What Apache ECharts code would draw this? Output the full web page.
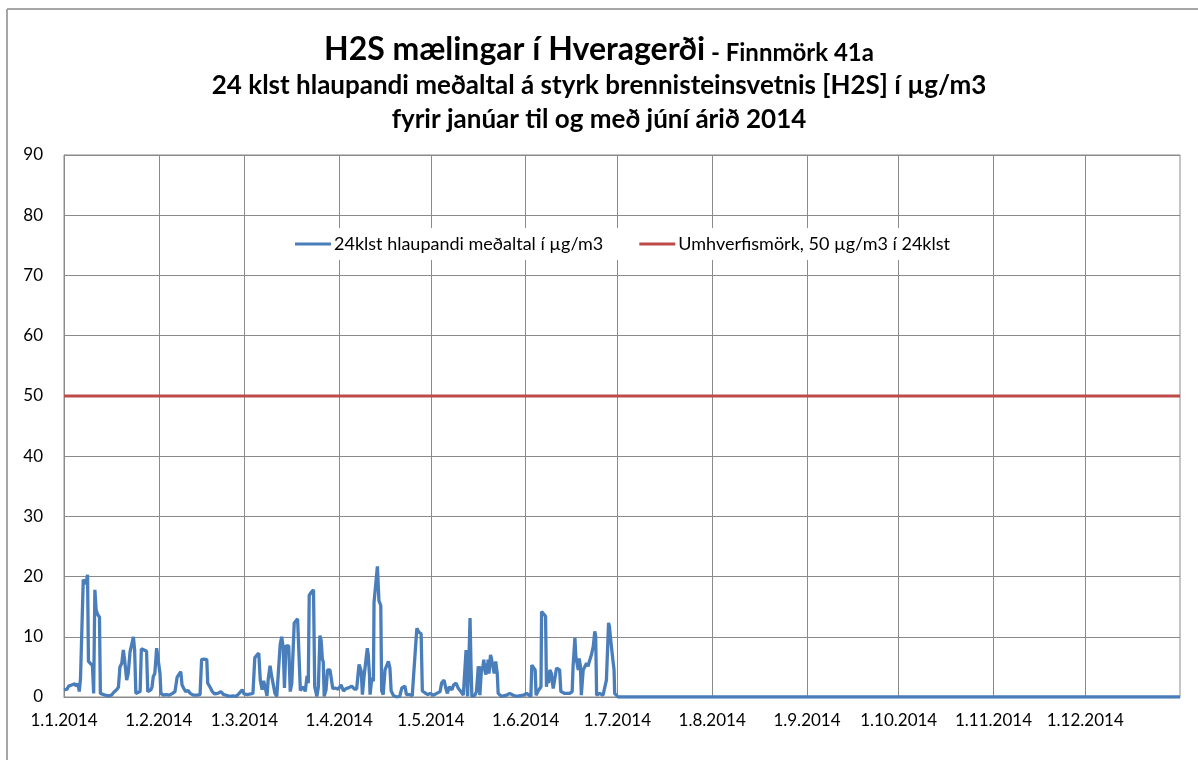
<!DOCTYPE html>
<html>
<head>
<meta charset="utf-8">
<title>H2S mælingar í Hveragerði</title>
<script src="https://cdn.jsdelivr.net/npm/echarts@6/dist/echarts.min.js"></script>
<style>
  html, body { margin: 0; padding: 0; background: #fff; }
  #chart { width: 1198px; height: 760px; }
</style>
</head>
<body>
<div id="chart"></div>
<script>
// dagar frá 1.1.2014 (brot úr degi) og 24 klst meðaltal í µg/m3
var days = [
  0.0, 0.5, 1.0, 1.5, 2.0, 2.5, 3.0, 3.5, 4.0, 4.6, 5.0, 5.4, 6.0, 6.3, 6.8, 7.2, 7.7, 8.0, 8.6, 9.3,
  9.7, 10.1, 10.5, 11.0, 11.6, 11.9, 12.5, 13.5, 14.5, 15.5, 16.3, 17.2, 17.8, 18.3, 18.9, 19.4, 19.9, 20.5, 21.0, 21.6,
  22.1, 22.7, 23.1, 23.5, 24.1, 24.9, 25.3, 26.2, 27.0, 27.4, 27.9, 28.4, 28.8, 29.2, 29.7, 30.3, 30.9, 31.4, 31.7, 32.5,
  33.5, 34.5, 35.5, 36.3, 37.0, 37.6, 38.2, 38.6, 39.2, 39.8, 40.5, 41.3, 42.3, 43.5, 44.5, 45.0, 45.8, 46.7, 47.0, 47.7,
  48.5, 49.3, 50.3, 51.3, 52.2, 53.0, 54.2, 55.3, 56.3, 57.3, 58.3, 58.9, 60.0, 61.0, 61.8, 62.4, 63.0, 63.7, 64.2, 64.8,
  65.3, 65.9, 66.4, 66.8, 67.4, 67.9, 68.4, 69.0, 69.6, 70.2, 70.7, 71.2, 71.7, 72.1, 72.6, 73.5, 74.0, 74.5, 75.0, 75.3,
  75.9, 76.4, 76.9, 77.3, 77.8, 78.4, 78.9, 79.5, 79.9, 80.2, 80.9, 81.6, 82.0, 82.4, 82.7, 83.2, 83.7, 84.1, 84.5, 84.8,
  85.1, 85.7, 86.2, 87.0, 87.5, 87.9, 88.6, 89.2, 89.7, 90.6, 91.4, 92.2, 93.0, 94.1, 95.0, 95.7, 96.5, 97.2, 97.6, 98.2,
  98.8, 99.2, 99.5, 99.9, 100.1, 100.7, 101.2, 101.4, 102.0, 102.5, 103.0, 103.6, 103.9, 104.4, 105.0, 105.6, 106.1, 106.6, 107.0, 107.8,
  108.8, 109.8, 110.5, 111.5, 112.0, 113.0, 113.9, 114.4, 115.0, 115.4, 116.0, 116.8, 117.2, 118.0, 119.0, 119.7, 120.8, 121.9, 123.0, 123.5,
  124.3, 124.9, 125.4, 126.0, 126.5, 126.9, 127.4, 128.2, 129.0, 129.8, 130.6, 131.2, 131.5, 131.7, 132.0, 132.4, 132.8, 133.1, 133.4, 134.4,
  134.9, 135.5, 135.8, 136.0, 136.6, 136.9, 137.3, 137.6, 138.0, 138.2, 138.5, 138.7, 139.0, 139.5, 139.8, 140.4, 140.7, 141.2, 141.7, 142.0,
  143.1, 144.7, 145.8, 146.9, 148.0, 150.2, 151.3, 151.9, 152.7, 153.0, 153.5, 154.1, 154.4, 155.2, 156.0, 156.2, 156.7, 157.5, 157.8, 158.1,
  158.5, 158.9, 159.4, 160.0, 160.5, 161.1, 162.1, 162.5, 163.8, 165.4, 166.2, 166.5, 167.1, 167.4, 167.8, 168.2, 168.5, 168.9, 169.2, 169.8,
  170.3, 170.9, 171.4, 172.0, 172.5, 173.1, 173.6, 173.9, 174.2, 175.2, 176.3, 176.8, 177.4, 177.7, 178.1, 178.4, 178.8, 179.2, 179.5, 179.9,
  180.1, 180.6, 181.2, 365.0
];
var values = [
  1.2, 1.5, 1.3, 1.8, 1.6, 2.0, 1.7, 2.2, 1.8, 2.2, 0.9, 3.1, 3.4, 19.5, 19.7, 18.8, 20.3, 5.9, 5.6, 5.2,
  0.6, 17.8, 14.5, 13.7, 13.3, 0.6, 0.3, 0.3, 0.2, 0.3, 0.8, 1.2, 1.6, 5.0, 5.6, 7.8, 5.8, 2.8, 3.9, 7.5,
  7.2, 10.0, 7.8, 0.6, 0.9, 0.9, 8.0, 7.8, 7.6, 0.9, 0.6, 1.2, 1.7, 3.4, 3.9, 8.1, 8.1, 3.9, 0.6, 0.3,
  0.4, 0.3, 0.6, 0.9, 3.3, 3.6, 4.2, 2.0, 1.4, 0.9, 1.1, 0.6, 0.3, 0.3, 0.4, 6.2, 6.3, 6.2, 2.3, 1.7,
  0.9, 0.5, 0.6, 0.9, 0.4, 0.3, 0.1, 0.2, 0.1, 0.6, 1.2, 0.5, 0.4, 0.5, 0.6, 6.5, 6.9, 7.3, 2.8, 1.2,
  2.7, 3.0, 0.2, 3.0, 5.2, 3.5, 3.7, 0.6, 0.1, 0.4, 8.7, 10.0, 8.2, 1.5, 8.5, 8.5, 0.9, 2.3, 2.3, 12.3,
  12.6, 13.0, 12.8, 1.1, 1.4, 1.7, 0.9, 3.5, 2.3, 16.9, 17.4, 17.8, 1.7, 1.4, 0.1, 1.7, 10.2, 9.4, 6.3, 5.8,
  0.1, 1.2, 4.5, 4.5, 4.2, 1.4, 1.5, 1.2, 1.3, 2.0, 1.0, 1.4, 1.5, 1.8, 1.3, 1.3, 5.4, 4.3, 0.4, 3.7,
  3.9, 8.1, 7.0, 3.7, 0.4, 3.2, 2.6, 15.7, 16.0, 21.7, 16.0, 15.2, 1.0, 0.4, 4.5, 4.8, 5.9, 4.8, 1.0, 0.2,
  0.0, 0.1, 1.5, 1.8, 0.4, 0.4, 0.2, 4.0, 4.3, 11.4, 10.8, 10.5, 1.0, 0.7, 0.4, 0.6, 0.3, 0.6, 0.9, 2.3,
  2.8, 1.4, 0.6, 1.7, 2.0, 1.2, 2.0, 2.3, 1.4, 0.9, 0.3, 0.6, 7.8, 7.6, 0.1, 5.6, 13.1, 5.6, 0.1, 0.3,
  0.9, 5.1, 4.5, 0.3, 5.1, 4.5, 6.2, 4.5, 3.7, 5.6, 3.9, 6.2, 3.9, 7.0, 6.4, 6.2, 3.9, 5.9, 3.9, 0.6,
  0.1, 0.3, 0.6, 0.3, 0.1, 0.3, 0.6, 0.6, 0.1, 5.3, 5.1, 4.5, 0.3, 1.1, 1.7, 14.2, 13.9, 13.4, 1.7, 3.9,
  2.3, 4.5, 3.9, 1.4, 1.2, 4.8, 4.5, 0.9, 0.6, 0.6, 0.9, 5.1, 9.8, 6.7, 6.4, 4.5, 6.4, 5.1, 0.3, 4.5,
  4.2, 5.6, 5.1, 6.2, 7.0, 8.4, 10.9, 10.1, 0.3, 0.6, 0.3, 0.6, 2.8, 3.1, 12.3, 11.7, 9.5, 9.2, 6.2, 4.5,
  0.6, 0.3, 0.0, 0.0
];

// umhverfismörk
var limitValue = 50;
var limitDays = [0, 365];

// fyrsti dagur hvers mánaðar og merkingar á x-ás
var monthStarts = [0, 31, 59, 90, 120, 151, 181, 212, 243, 273, 304, 334];
var monthLabels = ['1.1.2014', '1.2.2014', '1.3.2014', '1.4.2014', '1.5.2014', '1.6.2014',
  '1.7.2014', '1.8.2014', '1.9.2014', '1.10.2014', '1.11.2014', '1.12.2014'];

var seriesNames = ['24klst hlaupandi meðaltal í µg/m3', 'Umhverfismörk, 50 µg/m3 í 24klst'];

var h2sData = [];
for (var i = 0; i < days.length; i++) {
  h2sData.push([days[i], values[i]]);
}
var limitData = [];
for (var j = 0; j < limitDays.length; j++) {
  limitData.push([limitDays[j], limitValue]);
}

var fontName = 'Lato, "Noto Sans", sans-serif';
var gridColor = '#8a8a8a';

var myChart = echarts.init(document.getElementById('chart'));
var option = {
  animation: false,
  backgroundColor: '#fff',
  textStyle: { fontFamily: fontName },
  title: [
    {
      text: '{a|H2S mælingar í Hveragerði}{b| - Finnmörk 41a}',
      left: 'center', top: 29,
      textStyle: {
        rich: {
          a: { fontFamily: fontName, fontSize: 32, fontWeight: 'bold', color: '#000' },
          b: { fontFamily: fontName, fontSize: 24, fontWeight: 'bold', color: '#000', padding: [7, 0, 0, 0] }
        }
      }
    },
    {
      text: '24 klst hlaupandi meðaltal á styrk brennisteinsvetnis [H2S] í µg/m3',
      left: 'center', top: 68,
      textStyle: { fontFamily: fontName, fontSize: 26, fontWeight: 'bold', color: '#000' }
    },
    {
      text: 'fyrir janúar til og með júní árið 2014',
      left: 'center', top: 102,
      textStyle: { fontFamily: fontName, fontSize: 26, fontWeight: 'bold', color: '#000' }
    }
  ],
  legend: {
    data: seriesNames,
    left: 290, top: 228,
    icon: 'rect',
    itemWidth: 36, itemHeight: 3, itemGap: 36,
    backgroundColor: '#fff',
    padding: [7, 6, 7, 5],
    textStyle: { fontFamily: fontName, fontSize: 18, color: '#000', padding: [0, 0, 0, -2] }
  },
  grid: {
    left: 64, right: 18, top: 155, bottom: 63,
    show: true, borderColor: gridColor, borderWidth: 1
  },
  xAxis: {
    type: 'value',
    min: 0, max: 365,
    axisLine: { show: true, lineStyle: { color: gridColor } },
    axisTick: { show: false, customValues: monthStarts },
    splitLine: { show: true, lineStyle: { color: gridColor, width: 1 } },
    axisLabel: {
      customValues: monthStarts,
      margin: 15,
      fontFamily: fontName, fontSize: 17, color: '#000',
      formatter: function (val) {
        var idx = monthStarts.indexOf(Math.round(val));
        return idx >= 0 ? monthLabels[idx] : '';
      }
    }
  },
  yAxis: {
    type: 'value',
    min: 0, max: 90, interval: 10,
    axisLine: { show: true, lineStyle: { color: gridColor } },
    axisTick: { show: false },
    splitLine: { show: true, lineStyle: { color: gridColor, width: 1 } },
    axisLabel: { margin: 21, fontFamily: fontName, fontSize: 17, color: '#000' }
  },
  series: [
    {
      name: seriesNames[0],
      type: 'line',
      data: h2sData,
      showSymbol: false, symbol: 'none',
      lineStyle: { color: '#4a7ebb', width: 3.3 },
      itemStyle: { color: '#4a7ebb' },
      z: 3
    },
    {
      name: seriesNames[1],
      type: 'line',
      data: limitData,
      showSymbol: false, symbol: 'none',
      lineStyle: { color: '#be4b48', width: 3 },
      itemStyle: { color: '#be4b48' },
      z: 2
    }
  ],
  graphic: [
    // rammi utan um myndina
    { type: 'line', shape: { x1: 7, y1: 9, x2: 7, y2: 760 }, style: { stroke: '#a6a6a6', lineWidth: 2 } },
    { type: 'line', shape: { x1: 7, y1: 9, x2: 1198, y2: 9 }, style: { stroke: '#a6a6a6', lineWidth: 2 } }
  ]
};
myChart.setOption(option);
</script>
</body>
</html>
